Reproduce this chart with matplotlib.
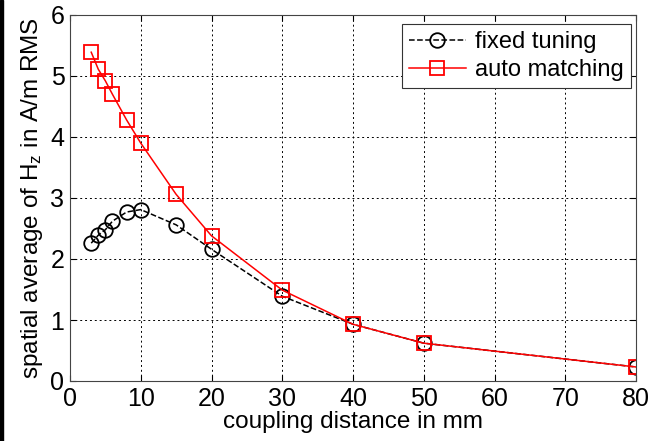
import matplotlib
matplotlib.use("Agg")
import matplotlib.pyplot as plt
from matplotlib.patches import Rectangle

# ── Data ──────────────────────────────────────────────────────────────────────
distance_mm = [3, 4, 5, 6, 8, 10, 15, 20, 30, 40, 50, 80]
fixed_tuning = [2.26, 2.39, 2.48, 2.62, 2.77, 2.81, 2.56, 2.16, 1.39, 0.93, 0.62, 0.23]
auto_matching = [5.39, 5.11, 4.92, 4.70, 4.28, 3.90, 3.06, 2.38, 1.49, 0.93, 0.62, 0.23]

x_ticks = [0, 10, 20, 30, 40, 50, 60, 70, 80]
y_ticks = [0, 1, 2, 3, 4, 5, 6]

# ── Plot ──────────────────────────────────────────────────────────────────────
plt.rcParams.update({
    "font.family": ["Liberation Sans", "DejaVu Sans"],
    "mathtext.fontset": "custom",
    "mathtext.rm": "Liberation Sans",
    "mathtext.it": "Liberation Sans:italic",
})

fig = plt.figure(figsize=(6.51, 4.41), dpi=100)
ax = fig.add_axes([70 / 651, 1 - 381 / 441, 566 / 651, 366 / 441])

ax.plot(distance_mm, fixed_tuning, "--o", color="black", lw=1.1,
        markersize=10.5, markerfacecolor="none", markeredgewidth=1.3,
        label="fixed tuning")
ax.plot(distance_mm, auto_matching, "-s", color="red", lw=1.1,
        markersize=10.5, markerfacecolor="none", markeredgewidth=1.3,
        label="auto matching")

ax.set_xlim(0, 80)
ax.set_ylim(0, 6)
ax.set_xticks(x_ticks)
ax.set_yticks(y_ticks)
ax.tick_params(direction="in", top=True, right=True, labelsize=18,
               length=4, width=0.8, pad=4)
ax.grid(True, linestyle=(0, (2, 3)), color="black", lw=0.7)
for s in ax.spines.values():
    s.set_color("#444444")
    s.set_linewidth(0.8)

ax.set_xlabel("coupling distance in mm", fontsize=17.5, labelpad=0)
ax.set_ylabel(r"spatial average of H$_\mathregular{z}$ in A/m RMS", fontsize=17.5,
              labelpad=4)

leg = ax.legend(loc="upper right", fontsize=17, fancybox=False, framealpha=1,
                edgecolor="#333333", handlelength=2.4, borderpad=0.3,
                labelspacing=0.25, handletextpad=0.4, borderaxespad=0,
                bbox_to_anchor=(561 / 566, 357 / 366))
leg.get_frame().set_linewidth(0.8)

# black strip on the left edge of the original screenshot
fig.patches.append(Rectangle((0, 0), 3 / 651, 1, transform=fig.transFigure,
                             color="black", zorder=10))

fig.savefig("out.png", dpi=100)
